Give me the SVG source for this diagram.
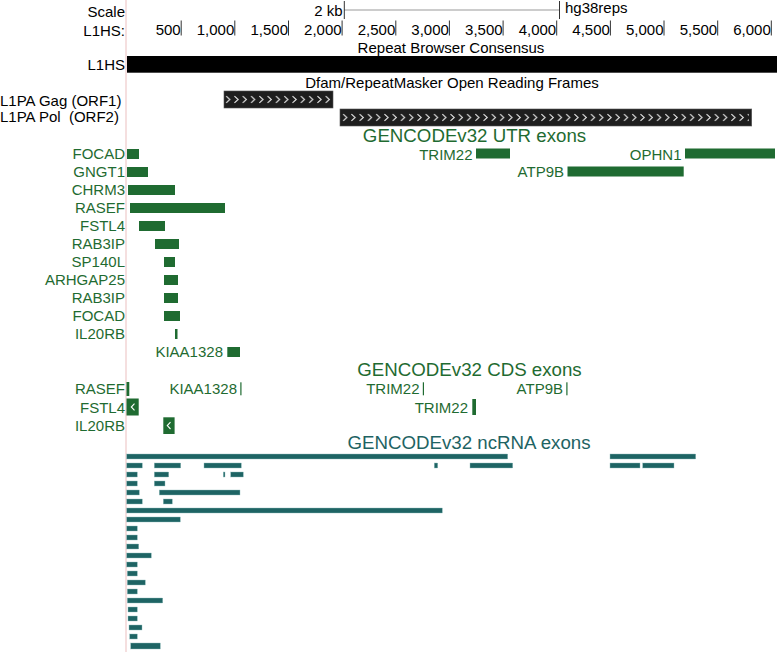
<svg xmlns="http://www.w3.org/2000/svg" width="777" height="652" viewBox="0 0 777 652">
<defs>
<style>
text{font-family:"Liberation Sans",Arial,sans-serif;font-size:15px;fill:#000}
.e{text-anchor:end}
.m{text-anchor:middle}
.g{fill:#1f6b31}
.t{fill:#1e6363}
.ttl{font-size:18.7px}
.utr{fill:#1f6b31}
.cds{fill:#1f6b31}
.nc{fill:#1e6464;stroke:#8fbcbc;stroke-width:0.4}
.tick{stroke:#333;stroke-width:1}
.chev{fill:none;stroke:#e6e6e6;stroke-width:1.1}
</style>
<pattern id="pc1" patternUnits="userSpaceOnUse" x="224" y="91" width="8.3" height="17">
<path class="chev" d="M2.2,5.2 L5.8,8.5 L2.2,11.8"/>
</pattern>
<pattern id="pc2" patternUnits="userSpaceOnUse" x="341" y="109" width="8.26" height="17">
<path class="chev" d="M2.2,5.2 L5.8,8.5 L2.2,11.8"/>
</pattern>
</defs>
<rect width="777" height="652" fill="#fff"/>
<line x1="126" y1="0" x2="126" y2="652" stroke="#f2d4d4" stroke-width="1.5"/>

<g id="scale">
<text x="125" y="16.5" class="e">Scale</text>
<text x="342.5" y="16" class="e">2 kb</text>
<line x1="344" y1="10" x2="559.5" y2="10" stroke="#999" stroke-width="1"/>
<line x1="344.3" y1="1" x2="344.3" y2="19" class="tick"/>
<line x1="559.5" y1="1" x2="559.5" y2="19" class="tick"/>
<text x="565" y="12.5">hg38reps</text>
</g>

<g id="ruler">
<text x="125" y="36" class="e">L1HS:</text>
<g class="tick">
<line x1="181.2" y1="20.5" x2="181.2" y2="35.5"/>
<line x1="234.8" y1="20.5" x2="234.8" y2="35.5"/>
<line x1="288.5" y1="20.5" x2="288.5" y2="35.5"/>
<line x1="342.1" y1="20.5" x2="342.1" y2="35.5"/>
<line x1="395.8" y1="20.5" x2="395.8" y2="35.5"/>
<line x1="449.4" y1="20.5" x2="449.4" y2="35.5"/>
<line x1="503.1" y1="20.5" x2="503.1" y2="35.5"/>
<line x1="556.7" y1="20.5" x2="556.7" y2="35.5"/>
<line x1="610.4" y1="20.5" x2="610.4" y2="35.5"/>
<line x1="664" y1="20.5" x2="664" y2="35.5"/>
<line x1="717.7" y1="20.5" x2="717.7" y2="35.5"/>
<line x1="771.3" y1="20.5" x2="771.3" y2="35.5"/>
</g>
<text x="180.7" y="35" class="e">500</text>
<text x="234.3" y="35" class="e">1,000</text>
<text x="288" y="35" class="e">1,500</text>
<text x="341.6" y="35" class="e">2,000</text>
<text x="395.3" y="35" class="e">2,500</text>
<text x="448.9" y="35" class="e">3,000</text>
<text x="502.6" y="35" class="e">3,500</text>
<text x="556.2" y="35" class="e">4,000</text>
<text x="609.9" y="35" class="e">4,500</text>
<text x="663.5" y="35" class="e">5,000</text>
<text x="717.2" y="35" class="e">5,500</text>
<text x="770.8" y="35" class="e">6,000</text>
</g>

<g id="consensus">
<text x="451" y="52.5" class="m">Repeat Browser Consensus</text>
<text x="125" y="70" class="e">L1HS</text>
<rect x="127" y="56" width="650" height="16.7" fill="#000"/>
</g>

<g id="orfs">
<text x="452" y="87.5" class="m">Dfam/RepeatMasker Open Reading Frames</text>
<text x="0" y="105.5">L1PA Gag (ORF1)</text>
<text x="0" y="121.5" xml:space="preserve">L1PA Pol  (ORF2)</text>
<g id="orf1">
<rect x="224" y="91" width="109" height="17" fill="#1e1e1e" stroke="#555" stroke-width="0.6"/>
<rect x="224" y="91" width="109" height="17" fill="url(#pc1)"/>
</g>
<g id="orf2">
<rect x="340" y="109" width="411.7" height="17" fill="#1e1e1e" stroke="#555" stroke-width="0.6"/>
<rect x="341" y="109" width="408" height="17" fill="url(#pc2)"/>
</g>
</g>

<g id="utr">
<text x="474.5" y="142" class="m ttl g">GENCODEv32 UTR exons</text>
<g id="utr-FOCAD"><text x="125" y="158.5" class="e g">FOCAD</text><rect class="utr" x="127" y="149" width="12" height="10"/></g>
<g id="utr-GNGT1"><text x="125" y="176.5" class="e g">GNGT1</text><rect class="utr" x="127" y="167" width="21" height="10"/></g>
<g id="utr-CHRM3"><text x="125" y="194.5" class="e g">CHRM3</text><rect class="utr" x="128" y="185" width="47" height="10"/></g>
<g id="utr-RASEF"><text x="125" y="212.5" class="e g">RASEF</text><rect class="utr" x="130" y="203" width="95" height="10"/></g>
<g id="utr-FSTL4"><text x="125" y="230.5" class="e g">FSTL4</text><rect class="utr" x="139" y="221" width="26" height="10"/></g>
<g id="utr-RAB3IP-1"><text x="125" y="248.5" class="e g">RAB3IP</text><rect class="utr" x="155" y="239" width="24" height="10"/></g>
<g id="utr-SP140L"><text x="125" y="266.5" class="e g">SP140L</text><rect class="utr" x="164" y="257" width="11" height="10"/></g>
<g id="utr-ARHGAP25"><text x="125" y="284.5" class="e g">ARHGAP25</text><rect class="utr" x="164" y="275" width="14" height="10"/></g>
<g id="utr-RAB3IP-2"><text x="125" y="302.5" class="e g">RAB3IP</text><rect class="utr" x="164" y="293" width="14" height="10"/></g>
<g id="utr-FOCAD-2"><text x="125" y="320.5" class="e g">FOCAD</text><rect class="utr" x="164" y="311" width="16" height="10"/></g>
<g id="utr-IL20RB"><text x="125" y="338.5" class="e g">IL20RB</text><rect class="utr" x="175" y="329" width="2.5" height="10"/></g>
<g id="utr-KIAA1328"><text x="223" y="356.5" class="e g">KIAA1328</text><rect class="utr" x="227.3" y="347" width="12.7" height="10"/></g>
<g id="utr-TRIM22"><text x="472.5" y="160" class="e g">TRIM22</text><rect class="utr" x="476" y="148.5" width="34" height="10"/></g>
<g id="utr-OPHN1"><text x="681.5" y="160" class="e g">OPHN1</text><rect class="utr" x="685" y="148.5" width="90" height="10"/></g>
<g id="utr-ATP9B"><text x="564" y="176.5" class="e g">ATP9B</text><rect class="utr" x="567.5" y="166.5" width="116.2" height="10"/></g>
</g>

<g id="cds">
<text x="469.5" y="376" class="m ttl g">GENCODEv32 CDS exons</text>
<g id="cds-RASEF"><text x="125" y="394" class="e g">RASEF</text><rect class="cds" x="126.5" y="382" width="2.8" height="14"/></g>
<g id="cds-KIAA1328"><text x="237" y="394" class="e g">KIAA1328</text><rect class="cds" x="240.3" y="382.3" width="1.2" height="13"/></g>
<g id="cds-TRIM22-1"><text x="419.5" y="394" class="e g">TRIM22</text><rect class="cds" x="422.8" y="382.3" width="1.2" height="13"/></g>
<g id="cds-ATP9B"><text x="563" y="394" class="e g">ATP9B</text><rect class="cds" x="566.3" y="382.3" width="1.2" height="13"/></g>
<g id="cds-FSTL4"><text x="125" y="413" class="e g">FSTL4</text><rect class="cds" x="126.5" y="398.5" width="12.2" height="17"/><path d="M134.5,403.6 L131.3,407 L134.5,410.4" fill="none" stroke="#fff" stroke-width="1.1"/></g>
<g id="cds-TRIM22-2"><text x="468" y="413" class="e g">TRIM22</text><rect class="cds" x="472.3" y="399" width="3.7" height="16"/></g>
<g id="cds-IL20RB"><text x="125" y="431" class="e g">IL20RB</text><rect class="cds" x="163.3" y="417.3" width="11.3" height="16.7"/><path d="M170.5,422.2 L167.3,425.6 L170.5,429" fill="none" stroke="#fff" stroke-width="1.1"/></g>
</g>

<g id="ncrna">
<text x="469" y="449" class="m ttl t">GENCODEv32 ncRNA exons</text>
<g id="nc-r0"><rect class="nc" x="126.7" y="454" width="381" height="5"/><rect class="nc" x="610" y="454" width="85.7" height="5"/></g>
<g id="nc-r1"><rect class="nc" x="126.7" y="463" width="15.6" height="5"/><rect class="nc" x="154.3" y="463" width="26.4" height="5"/><rect class="nc" x="204" y="463" width="37.3" height="5"/><rect class="nc" x="434.3" y="463" width="3.4" height="5"/><rect class="nc" x="470" y="463" width="42.7" height="5"/><rect class="nc" x="610" y="463" width="30" height="5"/><rect class="nc" x="642.7" y="463" width="31.3" height="5"/></g>
<g id="nc-r2"><rect class="nc" x="126.7" y="472" width="10.6" height="5"/><rect class="nc" x="154.3" y="472" width="14.4" height="5"/><rect class="nc" x="223.3" y="472" width="1.7" height="5"/><rect class="nc" x="230.7" y="472" width="12.6" height="5"/></g>
<g id="nc-r3"><rect class="nc" x="126.7" y="481" width="10.6" height="5"/><rect class="nc" x="154.3" y="481" width="10.7" height="5"/></g>
<g id="nc-r4"><rect class="nc" x="126.7" y="490" width="12.6" height="5"/><rect class="nc" x="159.3" y="490" width="80.7" height="5"/></g>
<g id="nc-r5"><rect class="nc" x="126.7" y="499" width="15.6" height="5"/><rect class="nc" x="163.3" y="499" width="9" height="5"/></g>
<g id="nc-r6"><rect class="nc" x="126.7" y="508" width="315.6" height="5"/></g>
<g id="nc-r7"><rect class="nc" x="126.7" y="517" width="53.6" height="5"/></g>
<g id="nc-r8"><rect class="nc" x="126.7" y="526" width="10.6" height="5"/></g>
<g id="nc-r9"><rect class="nc" x="126.7" y="535" width="10.6" height="5"/></g>
<g id="nc-r10"><rect class="nc" x="126.7" y="544" width="12" height="5"/></g>
<g id="nc-r11"><rect class="nc" x="126.7" y="553" width="24.6" height="5"/></g>
<g id="nc-r12"><rect class="nc" x="126.7" y="562" width="10.6" height="5"/></g>
<g id="nc-r13"><rect class="nc" x="127.3" y="571" width="10" height="5"/></g>
<g id="nc-r14"><rect class="nc" x="127.3" y="580" width="18" height="5"/></g>
<g id="nc-r15"><rect class="nc" x="127.3" y="589" width="10" height="5"/></g>
<g id="nc-r16"><rect class="nc" x="127.3" y="598" width="35.4" height="5"/></g>
<g id="nc-r17"><rect class="nc" x="128" y="607" width="9.3" height="5"/></g>
<g id="nc-r18"><rect class="nc" x="128" y="616" width="9.3" height="5"/></g>
<g id="nc-r19"><rect class="nc" x="129" y="625" width="13" height="5"/></g>
<g id="nc-r20"><rect class="nc" x="129.7" y="634" width="7.6" height="5"/></g>
<g id="nc-r21"><rect class="nc" x="130.7" y="643" width="29.6" height="6"/></g>
</g>

<g id="connectors"></g>
</svg>
